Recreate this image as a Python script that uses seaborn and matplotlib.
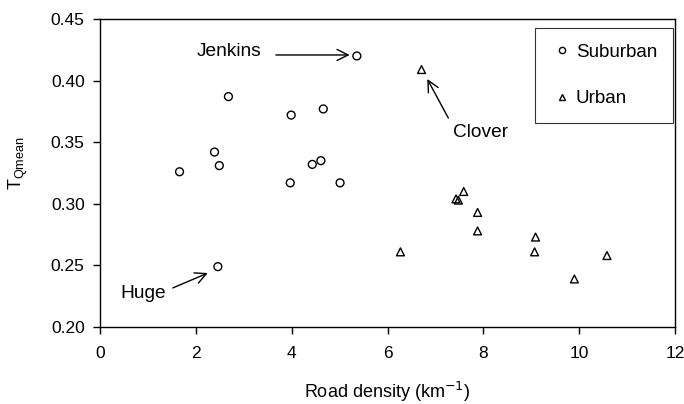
import matplotlib
matplotlib.use("Agg")
import matplotlib.pyplot as plt
import seaborn as sns
import pandas as pd
from matplotlib.lines import Line2D

sub_x = [1.66, 2.68, 2.39, 2.49, 3.99, 4.66, 4.43, 4.61, 3.97, 5.01, 5.36, 2.46]
sub_y = [0.326, 0.387, 0.342, 0.331, 0.372, 0.377, 0.332, 0.335, 0.317, 0.317, 0.420, 0.249]
urb_x = [6.71, 6.27, 7.43, 7.48, 7.59, 7.88, 7.88, 9.09, 9.07, 9.90, 10.58]
urb_y = [0.409, 0.261, 0.304, 0.303, 0.310, 0.293, 0.278, 0.273, 0.261, 0.239, 0.258]
x_ticks = [0, 2, 4, 6, 8, 10, 12]
y_ticks = [0.20, 0.25, 0.30, 0.35, 0.40, 0.45]

df = pd.DataFrame({
    "x": sub_x + urb_x,
    "y": sub_y + urb_y,
    "group": ["Suburban"] * len(sub_x) + ["Urban"] * len(urb_x),
})

sns.set_style("ticks")
plt.rcParams["font.family"] = ["Liberation Sans", "DejaVu Sans"]
for k in ["text.color", "axes.labelcolor", "xtick.color", "ytick.color", "axes.edgecolor"]:
    plt.rcParams[k] = "black"

FS = 12.5
FS_ANN = 13.8
FS_LEG = 13.5
fig = plt.figure(figsize=(6.84, 4.04), dpi=100)
ax = fig.add_axes([100 / 684, 1 - 327 / 404, 575 / 684, 308 / 404])

sns.scatterplot(data=df, x="x", y="y", style="group",
                markers={"Suburban": "o", "Urban": "^"},
                s=32, facecolors="none", edgecolor="black", linewidth=1.0,
                legend=False, ax=ax)

ax.set_xlim(0, 12)
ax.set_ylim(0.20, 0.45)
ax.set_xticks(x_ticks)
ax.set_xticklabels([str(t) for t in x_ticks])
ax.set_yticks(y_ticks)
ax.set_yticklabels([f"{t:.2f}" for t in y_ticks])
ax.tick_params(labelsize=FS, direction="out", length=5, width=1, color="black")
ax.tick_params(axis="x", pad=9)
ax.tick_params(axis="y", pad=6)
for sp in ax.spines.values():
    sp.set_visible(True)
    sp.set_color("black")
    sp.set_linewidth(1.0)

ax.set_xlabel("Road density (km$^{-1}$)", fontsize=13, labelpad=13)
ax.set_ylabel("T$_{\\mathregular{Qmean}}$", fontsize=13)
ax.yaxis.set_label_coords(-0.121, 0.532)

arrow = dict(arrowstyle="->", color="black", lw=1.0, mutation_scale=20,
             shrinkA=0, shrinkB=0)
# Jenkins
ax.text(3.375, 0.4235, "Jenkins", ha="right", va="center", fontsize=FS_ANN)
ax.annotate("", xy=(5.21, 0.4208), xytext=(3.67, 0.4208), arrowprops=arrow)
# Clover
ax.text(7.375, 0.3575, "Clover", ha="left", va="center", fontsize=FS_ANN)
ax.annotate("", xy=(6.83, 0.4013), xytext=(7.27, 0.3696), arrowprops=arrow)
# Huge
ax.text(1.375, 0.2270, "Huge", ha="right", va="center", fontsize=FS_ANN)
ax.annotate("", xy=(2.25, 0.2438), xytext=(1.52, 0.2317), arrowprops=arrow)

handles = [
    Line2D([], [], marker="o", ls="none", mfc="none", mec="black", ms=4.5, mew=1.0),
    Line2D([], [], marker="^", ls="none", mfc="none", mec="black", ms=4.5, mew=1.0),
]
leg = ax.legend(handles, ["Suburban", "Urban"], loc="upper right",
                bbox_to_anchor=(0.9965, 0.971), fontsize=FS_LEG, frameon=True,
                fancybox=False, edgecolor="black", labelspacing=1.55,
                handlelength=1.1, handletextpad=0.2, borderpad=0.85,
                borderaxespad=0.0)
leg.get_frame().set_linewidth(0.8)

fig.savefig("out.png", dpi=100)
